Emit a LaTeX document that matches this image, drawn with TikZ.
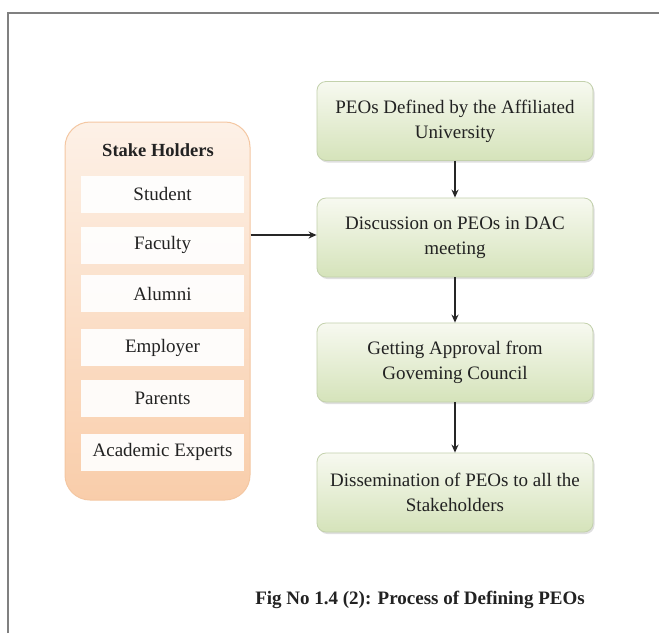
\documentclass[tikz,border=0pt]{standalone}
\usepackage{fontspec}
\setmainfont{Liberation Serif}
\usetikzlibrary{shadows,arrows.meta}
\definecolor{peachtop}{HTML}{FDF1E7}
\definecolor{peachbot}{HTML}{F9CDAA}
\definecolor{peachline}{HTML}{F4C7A2}
\definecolor{greentop}{HTML}{F7F9F0}
\definecolor{greenbot}{HTML}{D5E3BA}
\definecolor{greenline}{HTML}{C3D1AC}
\definecolor{framegray}{HTML}{808080}
\definecolor{inktext}{HTML}{222222}
\tikzset{
  stepbox/.style={draw=greenline, line width=0.8pt, rounded corners=9pt,
    top color=greentop, bottom color=greenbot, minimum width=276pt,
    minimum height=79pt, inner sep=0pt, align=center, text=inktext,
    font=\fontsize{19}{25}\selectfont,
    drop shadow={opacity=0.25, shadow xshift=1.5pt, shadow yshift=-2pt}},
  holder/.style={fill=white, fill opacity=0.92, text opacity=1, text=inktext,
    minimum width=163pt, minimum height=37pt, inner sep=0pt,
    font=\fontsize{19}{22}\selectfont},
  flow/.style={-{Stealth[length=8pt,width=7pt]}, line width=1.6pt, black!85}
}
\begin{document}
\begin{tikzpicture}[x=1pt,y=-1pt]
\useasboundingbox (0,0) rectangle (659,633);
\fill[white] (0,0) rectangle (659,633);
\draw[framegray, line width=2.2pt] (8,633) -- (8,13) -- (659,13);

% left panel
\node[draw=peachline, line width=1pt, rounded corners=25pt, top color=peachtop,
  bottom color=peachbot, minimum width=185pt, minimum height=378pt, inner sep=0pt]
  (panel) at (157.5,311) {};
\node[font=\fontsize{18.5}{22}\selectfont\bfseries, text=inktext] (title) at (158,150) {Stake Holders};
\node[holder] (h1) at (162.5,194) {Student};
\node[holder] (h2) at (162.5,245) {Faculty};
\node[holder] (h3) at (162.5,293.5) {Alumni};
\node[holder] (h4) at (162.5,347.5) {Employer};
\node[holder] (h5) at (162.5,398.5) {Parents};
\node[holder] (h6) at (162.5,452) {Academic Experts};

% right flow
\node[stepbox] (b1) at (455,121) {PEOs Defined by the Affiliated\\University};
\node[stepbox] (b2) at (455,237.5) {Discussion on PEOs in DAC\\meeting};
\node[stepbox] (b3) at (455,362.5) {Getting Approval from\\Goveming Council};
\node[stepbox] (b4) at (455,492.5) {Dissemination of PEOs to all the\\Stakeholders};

\draw[flow] (b1) -- (b2);
\draw[flow] (b2) -- (b3);
\draw[flow] (b3) -- (b4);
\draw[flow] (panel.east |- 0,235) -- (b2.west |- 0,235);

\node[font=\fontsize{19}{22}\selectfont\bfseries, text=inktext] (cap) at (420,600)
  {Fig No 1.4 (2): Process of Defining PEOs};
\end{tikzpicture}
\end{document}
